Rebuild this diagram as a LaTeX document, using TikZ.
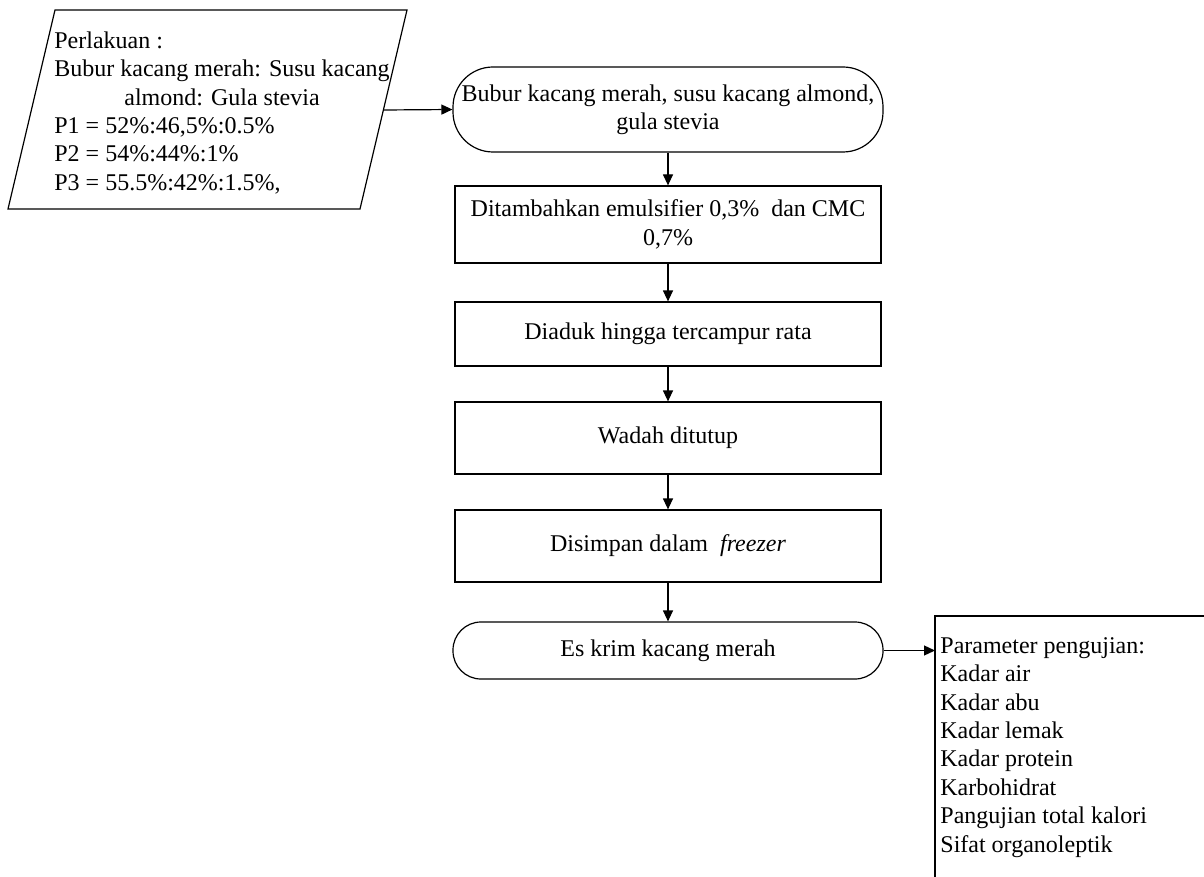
\documentclass[tikz,border=0pt]{standalone}
\usepackage{fontspec}
\setmainfont{Liberation Serif}
\usetikzlibrary{arrows.meta}
\begin{document}
\begin{tikzpicture}[x=0.5pt,y=-0.5pt,
  every node/.style={font=\fontsize{12}{14.2}\selectfont},
  line/.style={draw=black, line width=0.6pt},
  flowbox/.style={draw=black, line width=0.6pt, minimum width=213pt, inner sep=0pt, align=center},
  term/.style={flowbox, minimum width=215pt},
  arr/.style={line width=0.6pt, -{Triangle[length=5.5pt,width=5pt]}}]
\useasboundingbox (0,0) rectangle (1204,877);

% input parallelogram
\draw[line] (55,10) -- (407,10) -- (360,209) -- (8,209) -- cycle;
\coordinate (pr) at (383.4,110);
\node[anchor=north west, inner sep=0pt] (ptext) at (54,28) {\begin{tabular}{@{}l@{}}
Perlakuan :\\
\multicolumn{1}{@{}c@{}}{Bubur kacang merah: Susu kacang}\\
\multicolumn{1}{@{}c@{}}{almond: Gula stevia}\\
P1 = 52\%:46,5\%:0.5\%\\
P2 = 54\%:44\%:1\%\\
P3 = 55.5\%:42\%:1.5\%,
\end{tabular}};

% flow
\node[term, minimum height=42.5pt, rounded corners=20pt] (t1) at (668,109.5) {Bubur kacang merah, susu kacang almond,\\ gula stevia};
\node[flowbox, minimum height=38.5pt] (b2) at (668,224.5) {Ditambahkan emulsifier 0,3\%\ \ dan CMC\\ 0,7\%};
\node[flowbox, minimum height=32pt] (b3) at (668,334) {Diaduk hingga tercampur rata};
\node[flowbox, minimum height=36pt] (b4) at (668,438) {Wadah ditutup};
\node[flowbox, minimum height=36pt] (b5) at (668,546) {Disimpan dalam\ \ \textit{freezer}};
\node[term, minimum height=28.5pt, rounded corners=14pt] (t2) at (668,650.5) {Es krim kacang merah};

\draw[arr] (pr) -- (t1.west);
\draw[arr] (t1.south) -- (b2.north);
\draw[arr] (b2.south) -- (b3.north);
\draw[arr] (b3.south) -- (b4.north);
\draw[arr] (b4.south) -- (b5.north);
\draw[arr] (b5.south) -- (t2.north);

% output bracket
\coordinate (brk) at (935,616);
\coordinate (brkt) at (1204,616);
\coordinate (brkb) at (935,877);
\draw[line] (brkt) -- (brk) -- (brkb);
\node[anchor=north west, inner sep=0pt] (par) at (940,633) {\begin{tabular}{@{}l@{}}
Parameter pengujian:\\
Kadar air\\
Kadar abu\\
Kadar lemak\\
Kadar protein\\
Karbohidrat\\
Pangujian total kalori\\
Sifat organoleptik
\end{tabular}};
\draw[arr] (t2.east) -- (t2.east -| brk);
\end{tikzpicture}
\end{document}
